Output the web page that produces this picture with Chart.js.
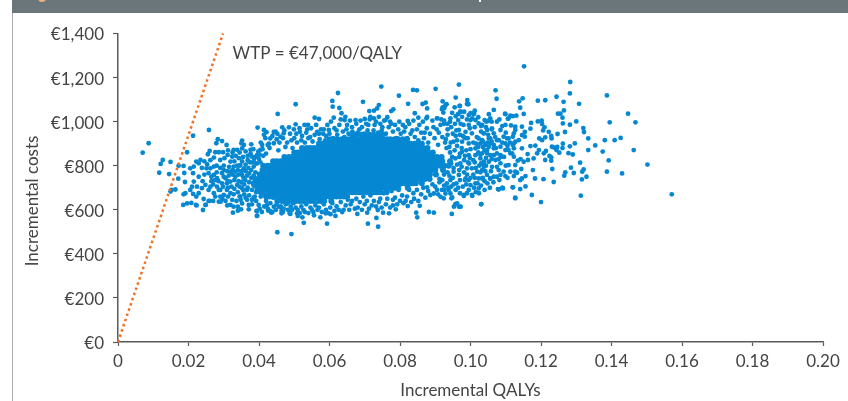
<!DOCTYPE html>
<html>
<head>
<meta charset="utf-8">
<title>Incremental cost-effectiveness plane</title>
<script src="https://cdn.jsdelivr.net/npm/chart.js@4"></script>
<style>
    html, body { margin: 0; padding: 0; background: #fff; overflow: hidden; }
    #wrap { position: relative; width: 848px; height: 401px; }
    #bar { position: absolute; left: 12px; right: 0; top: 0; height: 13px; background: #6b767b; }
    #rule { position: absolute; left: 12px; top: 13px; bottom: 0; width: 1px; background: #a9a9a9; }
    #badge { position: absolute; left: 38px; top: -6px; width: 8px; height: 8px; border-radius: 50%; background: #f3b183; }
    #speck { position: absolute; left: 479px; top: 0; width: 2px; height: 2px; background: #fff; }
    canvas { position: absolute; left: 0; top: 0; }
</style>
</head>
<body>
<div id="wrap">
    <div id="bar"></div><div id="rule"></div><div id="badge"></div><div id="speck"></div>
    <canvas id="plane" width="848" height="401"></canvas>
</div>
<script>
const qalyTicks = ['0', '0.02', '0.04', '0.06', '0.08', '0.10', '0.12', '0.14', '0.16', '0.18', '0.20'];
const costTicks = ['€0', '€200', '€400', '€600', '€800', '€1,000', '€1,200', '€1,400'];

// willingness to pay line
const wtpQalys = [0, 0.0298];
const wtpCosts = [0, 1400];

// solid middle of the cloud, single points cannot be told apart here so read band by band
const coreCosts = [940, 920, 900, 880, 860, 840, 820, 800, 780, 760, 740, 720, 700, 680, 660, 640];
const coreQalys = [
    [.0665, .0675, .0690, .0700, .0712, .0725, .0738, .0750],
    [.0600, .0612, .0622, .0635, .0645, .0655, .0665, .0678, .0688, .0698, .0708, .0718, .0730, .0740, .0750, .0762, .0772, .0785, .0795, .0808, .0820],
    [.0570, .0581, .0590, .0602, .0610, .0621, .0630, .0641, .0650, .0661, .0670, .0681, .0690, .0701, .0710, .0721, .0730, .0741, .0750, .0761, .0770, .0781, .0790, .0801, .0810, .0821, .0830, .0841, .0850, .0862],
    [.0522, .0535, .0545, .0555, .0565, .0575, .0585, .0595, .0605, .0615, .0625, .0635, .0645, .0655, .0665, .0675, .0685, .0695, .0705, .0715, .0725, .0735, .0745, .0755, .0765, .0775, .0785, .0795, .0805, .0815, .0825, .0835, .0845, .0855, .0865, .0878],
    [.0500, .0510, .0520, .0530, .0541, .0550, .0560, .0570, .0581, .0590, .0600, .0610, .0620, .0631, .0640, .0650, .0660, .0670, .0680, .0691, .0700, .0710, .0720, .0730, .0740, .0750, .0761, .0770, .0780, .0790, .0800, .0811, .0820, .0830, .0840, .0850, .0860, .0871, .0880, .0893],
    [.0472, .0485, .0495, .0505, .0515, .0525, .0535, .0545, .0555, .0565, .0575, .0585, .0595, .0605, .0615, .0625, .0635, .0645, .0655, .0665, .0675, .0685, .0695, .0705, .0715, .0725, .0735, .0745, .0755, .0765, .0775, .0785, .0795, .0805, .0815, .0825, .0835, .0845, .0855, .0865, .0875, .0885, .0895, .0905, .0918],
    [.0440, .0450, .0461, .0470, .0480, .0490, .0500, .0511, .0520, .0530, .0540, .0550, .0560, .0570, .0581, .0590, .0600, .0610, .0620, .0630, .0640, .0650, .0660, .0671, .0680, .0690, .0700, .0710, .0720, .0730, .0740, .0750, .0760, .0770, .0780, .0790, .0801, .0810, .0820, .0830, .0840, .0850, .0860, .0870, .0880, .0890, .0900, .0911, .0920, .0942],
    [.0412, .0425, .0435, .0445, .0455, .0465, .0475, .0485, .0495, .0505, .0515, .0525, .0535, .0545, .0555, .0565, .0575, .0585, .0595, .0605, .0615, .0625, .0635, .0645, .0655, .0665, .0675, .0685, .0695, .0705, .0715, .0725, .0735, .0745, .0755, .0765, .0775, .0785, .0795, .0805, .0815, .0825, .0835, .0845, .0855, .0865, .0875, .0885, .0895, .0905, .0915, .0925, .0938],
    [.0410, .0420, .0430, .0441, .0450, .0460, .0470, .0480, .0490, .0500, .0510, .0520, .0530, .0540, .0550, .0560, .0570, .0580, .0590, .0600, .0610, .0620, .0630, .0640, .0650, .0660, .0670, .0680, .0690, .0700, .0710, .0720, .0730, .0740, .0750, .0760, .0770, .0780, .0790, .0800, .0810, .0820, .0830, .0840, .0850, .0860, .0870, .0880, .0890, .0900, .0922],
    [.0402, .0415, .0425, .0435, .0445, .0455, .0465, .0475, .0485, .0495, .0505, .0515, .0525, .0535, .0545, .0555, .0565, .0575, .0585, .0595, .0605, .0615, .0625, .0635, .0645, .0655, .0665, .0675, .0685, .0695, .0705, .0715, .0725, .0735, .0745, .0755, .0765, .0775, .0785, .0795, .0805, .0815, .0825, .0835, .0845, .0855, .0865, .0875, .0885, .0902],
    [.0390, .0400, .0410, .0420, .0430, .0440, .0450, .0460, .0470, .0480, .0490, .0500, .0510, .0520, .0530, .0540, .0550, .0560, .0570, .0580, .0590, .0600, .0610, .0620, .0630, .0640, .0650, .0660, .0670, .0680, .0690, .0700, .0710, .0720, .0730, .0740, .0750, .0760, .0770, .0780, .0790, .0800, .0810, .0820, .0830, .0840, .0850, .0860, .0870, .0884],
    [.0385, .0395, .0405, .0415, .0425, .0435, .0445, .0455, .0465, .0475, .0485, .0495, .0505, .0515, .0525, .0535, .0545, .0555, .0565, .0575, .0585, .0595, .0605, .0615, .0625, .0635, .0645, .0655, .0665, .0675, .0685, .0695, .0705, .0715, .0725, .0735, .0745, .0755, .0765, .0775, .0785, .0795, .0805, .0815, .0825, .0835, .0845, .0862],
    [.0395, .0405, .0415, .0425, .0435, .0445, .0455, .0465, .0475, .0485, .0495, .0505, .0515, .0525, .0535, .0545, .0555, .0565, .0575, .0585, .0595, .0605, .0615, .0625, .0635, .0645, .0655, .0665, .0675, .0685, .0695, .0705, .0715, .0725, .0735, .0745, .0755, .0765, .0775, .0785, .0795, .0822],
    [.0405, .0415, .0425, .0435, .0445, .0455, .0465, .0475, .0485, .0495, .0505, .0515, .0525, .0535, .0545, .0555, .0565, .0575, .0585, .0595, .0605, .0615, .0625, .0635, .0645, .0655, .0665, .0675, .0685, .0695, .0705, .0715, .0725, .0735, .0745, .0762],
    [.0420, .0430, .0441, .0450, .0460, .0470, .0480, .0491, .0500, .0510, .0520, .0530, .0540, .0550, .0560, .0570, .0580, .0590, .0600, .0610, .0620, .0630, .0640, .0650],
    [.0452, .0465, .0475, .0485, .0495, .0505, .0515, .0525, .0535, .0545, .0555, .0565, .0575, .0585, .0605]
];

// loose points [QALYs, costs] read one at a time
const leftEdge = [
    [.0070, 859], [.0087, 902], [.0127, 826], [.0121, 808], [.0149, 817], [.0117, 768], [.0145, 762], [.0172, 800], [.0186, 799], [.0188, 767],
    [.0171, 741], [.0190, 726], [.0196, 861], [.0213, 936], [.0258, 962], [.0152, 690], [.0163, 692], [.0149, 683], [.0185, 622], [.0196, 629],
    [.0208, 631], [.0223, 620], [.0241, 599], [.0249, 622], [.0260, 640], [.0286, 637], [.0326, 587], [.0340, 596], [.0349, 602], [.0371, 602],
    [.0394, 572], [.0394, 594], [.0279, 902], [.0283, 920], [.0295, 912], [.0308, 894], [.0352, 914], [.0350, 902], [.0357, 894], [.0378, 897],
    [.0396, 973], [.0260, 867], [.0255, 852], [.0276, 861], [.0286, 861], [.0298, 861], [.0272, 837], [.0290, 826], [.0302, 834], [.0311, 849],
    [.0328, 872], [.0338, 872], [.0352, 879], [.0376, 872], [.0222, 819], [.0234, 826], [.0229, 811], [.0215, 796], [.0205, 788], [.0213, 766],
    [.0229, 750], [.0253, 806], [.0251, 788], [.0262, 788], [.0272, 796], [.0257, 766], [.0272, 758], [.0281, 743], [.0295, 766], [.0305, 743],
    [.0215, 728], [.0210, 705], [.0205, 690], [.0224, 705], [.0238, 698], [.0248, 713], [.0257, 690], [.0272, 675], [.0191, 675], [.0186, 670],
    [.0213, 672], [.0229, 675], [.0243, 649], [.0222, 660], [.0257, 640], [.0248, 622], [.0221, 622], [.0276, 660], [.0291, 637], [.0300, 667],
    [.0286, 690], [.0309, 690], [.0319, 675], [.0324, 645], [.0319, 622], [.0328, 614], [.0340, 614], [.0352, 629], [.0366, 645], [.0347, 660],
    [.0319, 819], [.0328, 796], [.0333, 773], [.0319, 773], [.0343, 834], [.0324, 841], [.0333, 750], [.0319, 728], [.0338, 713], [.0309, 720],
    [.0295, 720], [.0281, 705], [.0347, 803], [.0357, 788], [.0352, 758], [.0361, 735], [.0352, 698], [.0366, 690], [.0371, 819], [.0380, 841],
    [.0385, 796], [.0395, 849], [.0404, 872], [.0371, 622], [.0380, 645], [.0399, 622]
];
const leftRing = [
    [.0312, 870], [.0325, 860], [.0334, 845], [.0345, 860], [.0355, 840], [.0362, 865], [.0368, 845], [.0376, 855], [.0384, 875], [.0390, 840],
    [.0398, 865], [.0402, 850], [.0410, 875], [.0412, 845], [.0330, 820], [.0338, 800], [.0352, 820], [.0362, 805], [.0368, 825], [.0376, 815],
    [.0386, 830], [.0394, 810], [.0404, 815], [.0315, 795], [.0340, 780], [.0350, 775], [.0362, 775], [.0370, 790], [.0378, 780], [.0314, 755],
    [.0325, 760], [.0342, 760], [.0356, 745], [.0366, 755], [.0312, 700], [.0330, 695], [.0342, 730], [.0350, 725], [.0358, 715], [.0328, 670],
    [.0340, 680], [.0348, 645], [.0358, 670], [.0362, 655], [.0372, 665], [.0296, 650], [.0305, 640], [.0312, 660], [.0336, 640], [.0285, 730],
    [.0300, 750], [.0270, 715], [.0290, 690], [.0265, 730], [.0280, 770], [.0290, 790], [.0300, 800], [.0310, 775], [.0245, 760], [.0238, 790],
    [.0245, 820], [.0262, 825], [.0280, 800], [.0265, 750], [.0240, 730], [.0262, 705], [.0275, 735], [.0298, 705], [.0312, 730], [.0322, 705],
    [.0300, 780], [.0330, 735], [.0325, 780], [.0345, 800], [.0355, 690], [.0345, 705], [.0368, 700], [.0372, 725], [.0378, 745], [.0372, 765],
    [.0385, 755], [.0385, 710], [.0380, 690], [.0392, 680], [.0395, 730], [.0390, 770], [.0388, 660], [.0405, 660], [.0412, 675], [.0400, 695],
    [.0345, 660], [.0310, 620], [.0290, 660], [.0270, 640]
];
const upperEdge = [
    [.0414, 940], [.0421, 952], [.0432, 924], [.0447, 955], [.0409, 894], [.0425, 894], [.0442, 902], [.0461, 932], [.0414, 962], [.0453, 1035],
    [.0504, 1079], [.0624, 1130], [.0608, 1094], [.0609, 1068], [.0628, 1062], [.0695, 1090], [.0558, 1018], [.0570, 1012], [.0747, 1159], [.0797, 1118],
    [.0837, 1144], [.0848, 1142], [.0901, 1149], [.0967, 1168], [.0958, 1109], [.0823, 1081], [.0864, 1080], [.0873, 1086], [.0877, 1060], [.0921, 1092],
    [.0932, 1079], [.0926, 1062], [.0923, 1041], [.0970, 1072], [.0991, 1098], [.0994, 1079], [.0740, 1075], [.0735, 1060], [.0726, 1050], [.0713, 1048],
    [.0781, 1056], [.0775, 1048], [.0740, 1022], [.0726, 1015], [.0716, 1022], [.0842, 1038], [.0634, 1038], [.0612, 1018], [.0645, 1022], [.0764, 1020],
    [.0759, 1007], [.0674, 1007], [.0700, 1012], [.0643, 1007], [.0822, 1003], [.0852, 1018], [.0875, 1015], [.0906, 1015], [.0943, 1015], [.0972, 1045],
    [.1000, 1038], [.1010, 1038], [.0442, 953], [.0466, 974], [.0485, 974], [.0499, 965], [.0504, 988], [.0529, 985], [.0539, 985], [.0537, 965],
    [.0565, 954], [.0584, 965], [.0598, 962], [.0470, 947], [.0516, 954], [.0450, 920], [.0480, 905], [.0500, 925], [.0520, 915], [.0545, 930],
    [.0570, 945], [.0590, 935], [.0620, 960], [.0650, 985], [.0665, 955], [.0685, 965], [.0710, 985], [.0725, 960], [.0750, 975], [.0775, 990],
    [.0795, 965], [.0815, 975], [.0835, 960], [.0855, 985], [.0870, 950], [.0895, 975], [.0910, 950], [.0925, 990], [.0945, 975], [.0430, 880],
    [.0455, 870], [.0475, 885], [.0495, 880], [.0420, 855], [.0400, 830], [.0385, 815]
];
const upperRing = [
    [.0405, 905], [.0418, 925], [.0428, 900], [.0438, 935], [.0452, 945], [.0458, 905], [.0468, 925], [.0472, 960], [.0488, 945], [.0492, 915],
    [.0506, 945], [.0508, 905], [.0515, 970], [.0522, 935], [.0530, 905], [.0534, 950], [.0540, 925], [.0548, 970], [.0552, 910], [.0558, 940],
    [.0562, 985], [.0572, 920], [.0576, 965], [.0582, 945], [.0588, 915], [.0594, 985], [.0600, 945], [.0604, 1000], [.0610, 925], [.0614, 970],
    [.0622, 940], [.0628, 985], [.0632, 1010], [.0638, 955], [.0642, 930], [.0648, 965], [.0654, 945], [.0658, 1005], [.0664, 975], [.0670, 935],
    [.0676, 990], [.0680, 950], [.0688, 1005], [.0692, 975], [.0698, 945], [.0704, 990], [.0708, 960], [.0714, 1010], [.0720, 940], [.0728, 985],
    [.0732, 1000], [.0738, 950], [.0744, 990], [.0748, 960], [.0755, 1005], [.0760, 945], [.0768, 975], [.0772, 1000], [.0780, 955], [.0786, 985],
    [.0790, 925], [.0798, 1000], [.0802, 945], [.0808, 985], [.0812, 955], [.0820, 925], [.0826, 990], [.0830, 945], [.0838, 1005], [.0842, 930],
    [.0848, 965], [.0852, 915], [.0860, 950], [.0865, 1000], [.0868, 925], [.0876, 970], [.0880, 905], [.0885, 945], [.0892, 1005], [.0898, 925],
    [.0904, 965], [.0908, 895], [.0915, 985], [.0920, 930], [.0928, 905], [.0935, 965], [.0940, 885], [.0950, 945], [.0956, 990], [.0962, 915],
    [.0970, 940], [.0980, 985], [.0985, 925]
];
const lowerEdge = [
    [.0426, 596], [.0435, 587], [.0464, 584], [.0466, 602], [.0489, 581], [.0508, 584], [.0510, 572], [.0452, 498], [.0492, 490], [.0527, 541],
    [.0593, 537], [.0709, 537], [.0738, 523], [.0733, 563], [.0846, 587], [.0849, 566], [.0882, 590], [.0896, 587], [.0947, 581], [.0523, 566],
    [.0556, 575], [.0574, 566], [.0589, 584], [.0603, 580], [.0617, 572], [.0679, 581], [.0707, 587], [.0737, 599], [.0752, 587], [.0769, 584],
    [.0788, 602], [.0822, 617], [.0856, 618], [.0953, 614], [.0962, 629], [.0972, 614], [.0393, 595], [.0395, 573], [.0431, 595], [.0464, 595],
    [.0487, 584], [.0423, 622], [.0442, 614], [.0456, 614], [.0480, 629], [.0420, 640], [.0450, 625], [.0440, 655], [.0470, 605], [.0490, 615],
    [.0510, 600], [.0530, 590], [.0550, 600], [.0570, 610], [.0590, 600], [.0620, 615], [.0640, 600], [.0660, 625], [.0680, 610], [.0700, 625],
    [.0720, 620], [.0740, 635], [.0760, 625], [.0780, 645], [.0800, 640], [.0820, 660], [.0840, 650], [.0860, 670], [.0880, 685], [.0900, 705],
    [.0925, 710], [.0780, 620], [.0810, 630]
];
const lowerRing = [
    [.0380, 625], [.0385, 655], [.0392, 640], [.0402, 605], [.0408, 590], [.0415, 615], [.0425, 605], [.0432, 630], [.0438, 590], [.0448, 600],
    [.0454, 640], [.0462, 615], [.0468, 590], [.0476, 625], [.0482, 600], [.0494, 600], [.0498, 630], [.0504, 610], [.0516, 585], [.0520, 615],
    [.0526, 600], [.0534, 625], [.0540, 585], [.0546, 610], [.0554, 590], [.0560, 620], [.0566, 600], [.0578, 590], [.0584, 625], [.0596, 585],
    [.0602, 610], [.0608, 630], [.0614, 595], [.0626, 600], [.0632, 635], [.0636, 590], [.0646, 620], [.0652, 645], [.0656, 600], [.0664, 640],
    [.0672, 605], [.0676, 650], [.0686, 635], [.0692, 600], [.0696, 660], [.0706, 640], [.0712, 605], [.0716, 665], [.0726, 640], [.0732, 615],
    [.0744, 650], [.0748, 610], [.0754, 675], [.0764, 650], [.0772, 610], [.0776, 685], [.0786, 655], [.0792, 625], [.0796, 690], [.0806, 665],
    [.0816, 640], [.0826, 690], [.0832, 635], [.0838, 675], [.0848, 690], [.0852, 640], [.0866, 700], [.0872, 655], [.0892, 715], [.0908, 670],
    [.0912, 725], [.0936, 700]
];
const rightEdge = [
    [.0921, 1065], [.0929, 1075], [.0919, 1056], [.0955, 1065], [.0969, 1071], [.0971, 1045], [.0990, 1080], [.1052, 1034], [.1099, 1034], [.1120, 1025],
    [.1108, 1015], [.0877, 1022], [.0905, 1015], [.0917, 1010], [.0965, 1007], [.0976, 1022], [.0995, 1030], [.1009, 1034], [.1023, 992], [.1014, 1007],
    [.1000, 1007], [.1040, 1007], [.1052, 1004], [.1075, 1000], [.1099, 985], [.1085, 962], [.1066, 947], [.1056, 924], [.1038, 947], [.1023, 924],
    [.1004, 947], [.0986, 954], [.0967, 962], [.1080, 916], [.1104, 924], [.1066, 894], [.1052, 886], [.1028, 901], [.1014, 879], [.0995, 901],
    [.0976, 909], [.0952, 909], [.1099, 871], [.1118, 856], [.1085, 848], [.1066, 848], [.1047, 856], [.1038, 818], [.1028, 833], [.1014, 848],
    [.0995, 848], [.0976, 863], [.1123, 901], [.1127, 803], [.1113, 773], [.1094, 773], [.1085, 811], [.1075, 750], [.1056, 742], [.1038, 795],
    [.1019, 773], [.1004, 788], [.0990, 788], [.0971, 811], [.0957, 833], [.1023, 742], [.1014, 720], [.0995, 735], [.0986, 742], [.0967, 758],
    [.0952, 773], [.1000, 712], [.1023, 697], [.0995, 690], [.0981, 667], [.1004, 667], [.0943, 735], [.0933, 720], [.0919, 690], [.0905, 690],
    [.0896, 674], [.0886, 667], [.0877, 702], [.0929, 674], [.0943, 674], [.0948, 656], [.0957, 626], [.0967, 614], [.1031, 626], [.1078, 694],
    [.1091, 699], [.1120, 702], [.1127, 652], [.0915, 659], [.0924, 652], [.0946, 652], [.0981, 663], [.1005, 663], [.1024, 675], [.1030, 625],
    [.1080, 693], [.1092, 697], [.1033, 985], [.1056, 1015], [.1047, 962], [.1037, 947], [.1061, 969], [.1052, 924], [.1033, 916], [.1042, 894],
    [.1056, 901], [.1075, 916], [.1094, 932], [.1108, 924], [.1099, 901], [.1085, 886], [.1066, 879], [.1047, 871], [.1033, 856], [.1056, 848],
    [.1075, 856], [.1089, 841], [.1071, 826], [.1052, 818], [.1037, 811], [.1061, 795], [.1033, 780], [.1080, 780], [.1047, 758], [.1066, 750],
    [.1085, 758], [.1099, 753], [.1108, 803], [.1123, 841], [.1113, 856], [.1108, 871], [.1123, 879], [.1033, 742], [.1056, 742]
];
const rightRing = [
    [.0925, 1005], [.0935, 940], [.0942, 1000], [.0958, 1025], [.0960, 960], [.0972, 990], [.0982, 930], [.0990, 1010], [.0998, 970], [.1005, 1015],
    [.1012, 975], [.1018, 930], [.1030, 980], [.1035, 910], [.1045, 1000], [.1060, 1000], [.0932, 880], [.0942, 860], [.0948, 840], [.0955, 870],
    [.0962, 890], [.0968, 840], [.0975, 880], [.0982, 825], [.0988, 870], [.0993, 815], [.1000, 875], [.1008, 825], [.1016, 900], [.1022, 860],
    [.1030, 810], [.1040, 870], [.0938, 800], [.0945, 810], [.0952, 790], [.0962, 805], [.0968, 780], [.0975, 795], [.0982, 770], [.0990, 760],
    [.0996, 810], [.1008, 760], [.1015, 790], [.1028, 770], [.1035, 745], [.1042, 775], [.0925, 760], [.0935, 770], [.0940, 755], [.0950, 745],
    [.0960, 720], [.0970, 735], [.0978, 705], [.0988, 715], [.1010, 700], [.1020, 720], [.1040, 730], [.0912, 740], [.0920, 735], [.0945, 705],
    [.0958, 690], [.0935, 990], [.0948, 1040], [.0965, 1035], [.0982, 1045], [.0995, 985], [.1012, 1050], [.1022, 1020], [.1030, 955], [.1044, 975],
    [.1050, 940], [.1060, 965], [.1070, 930], [.1082, 1010], [.1090, 980], [.1100, 950], [.1112, 905], [.1105, 890], [.1090, 905], [.1072, 880],
    [.1060, 910], [.1048, 905], [.1035, 885], [.1022, 885], [.1008, 905], [.0992, 925], [.0978, 935], [.0958, 935], [.0944, 905], [.0930, 920],
    [.1095, 840], [.1080, 830], [.1060, 830], [.1044, 835], [.1028, 850], [.1012, 815], [.0998, 835], [.0984, 845], [.0970, 855], [.1100, 800],
    [.1075, 795], [.1058, 775], [.1044, 800], [.1025, 800], [.1012, 745], [.1000, 745], [.0984, 735], [.0965, 700], [.0952, 715], [.1030, 710],
    [.1048, 720], [.1065, 725], [.1082, 735], [.1105, 745], [.1040, 690], [.1015, 680], [.0990, 675], [.0970, 675], [.0938, 690], [.0925, 690],
    [.1055, 700]
];
const rightTail = [
    [.1152, 1251], [.1283, 1180], [.1282, 1128], [.1387, 1119], [.1071, 1142], [.1074, 1104], [.1138, 1092], [.1148, 1106], [.1191, 1095], [.1212, 1097],
    [.1244, 1113], [.1264, 1090], [.1308, 1081], [.1141, 1063], [.1066, 1053], [.1098, 1036], [.1151, 1035], [.1130, 1027], [.1113, 1027], [.1106, 1013],
    [.1265, 1051], [.1248, 1036], [.1255, 1036], [.1261, 1018], [.1172, 994], [.1191, 1001], [.1202, 1004], [.1203, 989], [.1262, 992], [.1282, 986],
    [.1300, 1001], [.1447, 1036], [.1395, 997], [.1468, 997], [.1170, 968], [.1115, 983], [.1127, 977], [.1146, 977], [.1210, 974], [.1206, 960],
    [.1222, 954], [.1247, 944], [.1268, 953], [.1320, 971], [.1322, 953], [.1154, 953], [.1146, 939], [.1154, 932], [.1127, 962], [.1123, 947],
    [.1334, 924], [.1381, 916], [.1409, 916], [.1426, 926], [.1354, 892], [.1334, 871], [.1375, 864], [.1463, 871], [.1392, 824], [.1311, 814],
    [.1502, 805], [.1387, 773], [.1430, 765], [.1571, 670], [.1313, 664], [.1200, 635], [.1174, 667], [.1127, 655], [.1156, 706], [.1141, 694],
    [.1120, 702], [.1090, 699], [.1080, 693], [.1236, 726], [.1207, 739], [.1183, 742], [.1156, 753], [.1146, 742], [.1141, 735], [.1232, 785],
    [.1177, 780], [.1144, 785], [.1127, 773], [.1123, 753], [.1132, 768], [.1285, 791], [.1293, 767], [.1269, 770], [.1266, 755], [.1317, 773],
    [.1321, 783], [.1329, 750], [.1316, 738], [.1278, 857], [.1290, 851], [.1252, 859], [.1296, 901], [.1282, 888], [.1262, 900], [.1261, 880],
    [.1246, 885], [.1238, 882], [.1231, 886], [.1244, 871], [.1212, 826], [.1229, 823], [.1224, 844], [.1229, 838], [.1214, 867], [.1208, 856],
    [.1195, 924], [.1203, 916], [.1212, 929], [.1229, 935], [.1230, 924], [.1184, 891], [.1170, 889], [.1194, 871], [.1189, 856], [.1179, 833],
    [.1162, 853], [.1163, 826], [.1151, 818], [.1142, 830], [.1134, 823], [.1146, 879], [.1137, 916], [.1127, 909], [.1120, 894], [.1120, 932]
];

const corePoints = coreCosts.flatMap((cost, i) => coreQalys[i].map(q => ({ x: q, y: cost })));
const loosePoints = [...leftEdge, ...leftRing, ...upperEdge, ...upperRing, ...lowerEdge, ...lowerRing, ...rightEdge, ...rightRing, ...rightTail].map(p => ({ x: p[0], y: p[1] }));
const wtpPoints = wtpQalys.map((q, i) => ({ x: q, y: wtpCosts[i] }));

const textColor = '#444444';
const axisColor = '#5a5a5a';
const labelFont = { family: 'Lato', size: 17, weight: '400' };

// WTP note and the y title sits lower than the axis middle, so both are drawn here
const notes = {
    id: 'notes',
    afterDraw(chart) {
        const ctx = chart.ctx;
        ctx.save();
        ctx.fillStyle = textColor;
        ctx.font = '400 17px Lato';
        ctx.textBaseline = 'middle';
        ctx.textAlign = 'left';
        ctx.fillText('WTP = €47,000/QALY', chart.scales.x.getPixelForValue(0.0325), chart.scales.y.getPixelForValue(1311));
        ctx.translate(33, chart.scales.y.getPixelForValue(640));
        ctx.rotate(-Math.PI / 2);
        ctx.textAlign = 'center';
        ctx.fillText('Incremental costs', 0, 0);
        ctx.restore();
    }
};

new Chart(document.getElementById('plane').getContext('2d'), {
    type: 'scatter',
    data: {
        datasets: [
            {
                label: 'WTP',
                data: wtpPoints,
                showLine: true,
                pointRadius: 0,
                borderColor: '#f26f21',
                borderWidth: 2.5,
                borderDash: [2.5, 3],
                clip: false
            },
            // core points overlap, the bigger radius closes the gaps between the bands
            { label: 'Core', data: corePoints, pointRadius: 3, pointBorderWidth: 0, backgroundColor: '#0588d1' },
            { label: 'Simulations', data: loosePoints, pointRadius: 2.4, pointBorderWidth: 0, backgroundColor: '#0588d1' }
        ]
    },
    options: {
        responsive: false,
        animation: false,
        layout: { padding: { left: 0, right: 25, top: 33.5, bottom: 0 } },
        plugins: { legend: { display: false }, tooltip: { enabled: false } },
        scales: {
            x: {
                type: 'linear',
                min: 0,
                max: 0.2,
                afterFit(scale) { scale.height = 59; },
                border: { color: axisColor, width: 1.5 },
                grid: { drawOnChartArea: false, tickLength: 4, tickColor: axisColor, tickWidth: 1.2 },
                ticks: {
                    stepSize: 0.02,
                    color: textColor,
                    font: labelFont,
                    maxRotation: 0,
                    padding: 5,
                    callback: (value, i) => qalyTicks[i]
                },
                title: { display: true, text: 'Incremental QALYs', color: textColor, font: labelFont, padding: { top: 0, bottom: 0 } }
            },
            y: {
                type: 'linear',
                min: 0,
                max: 1400,
                afterFit(scale) { scale.width = 118; },
                border: { color: axisColor, width: 1.5 },
                grid: { drawOnChartArea: false, tickLength: 5, tickColor: axisColor, tickWidth: 1.2 },
                ticks: {
                    stepSize: 200,
                    color: textColor,
                    font: labelFont,
                    padding: 9,
                    labelOffset: 1.5,
                    callback: (value, i) => costTicks[i]
                }
            }
        }
    },
    plugins: [notes]
});
</script>
</body>
</html>
